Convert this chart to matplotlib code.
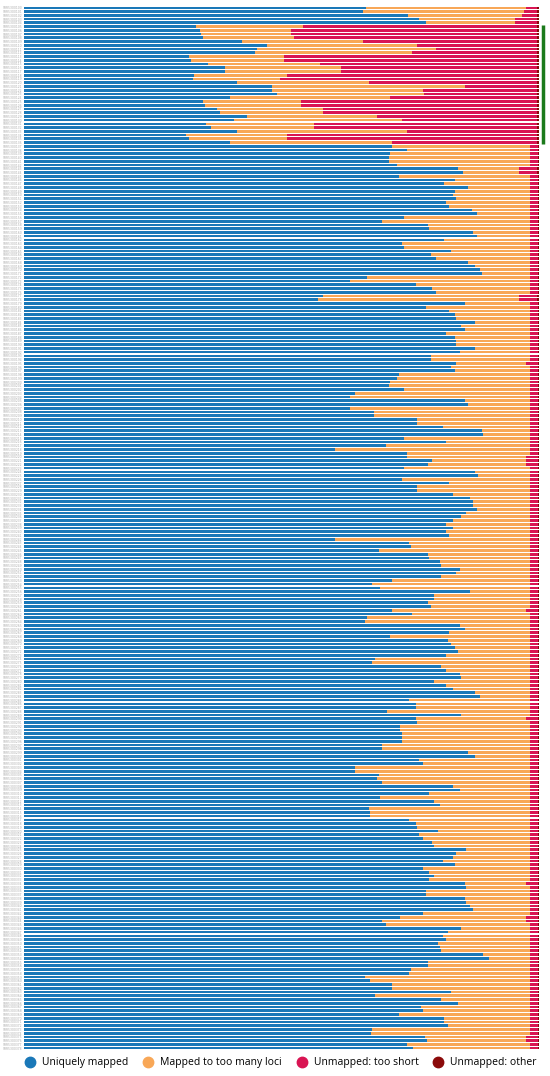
import matplotlib
matplotlib.use("Agg")
import matplotlib.pyplot as plt
from matplotlib.lines import Line2D

# STAR alignment scores, % of reads per sample (top row first)
top_unique = [66.4, 65.9, 74.6, 76.7, 78.0]
top_multi = [31.0, 31.1, 22.1, 18.7, 17.4]
top_short = [2.3, 2.7, 3.0, 4.3, 4.3]
top_other = [0.3, 0.3, 0.3, 0.3, 0.3]

# flagged samples with lots of too-short reads
flag_unique = [33.4, 34.1, 34.4, 34.8, 42.3, 47.2, 45.2, 44.9, 32.1, 32.5, 35.7, 39.0, 39.0, 33.1, 32.8, 41.3,
               48.2, 48.2, 49.2, 40.0, 34.8, 35.1, 37.4, 38.0, 43.3, 40.7, 35.4, 36.4, 41.3, 31.5, 32.1, 40.0]
flag_multi = [20.7, 17.7, 17.4, 17.7, 23.6, 29.2, 34.8, 30.5, 18.4, 18.0, 21.7, 22.6, 22.6, 18.0, 17.0, 25.6,
              37.4, 29.2, 28.5, 31.1, 19.0, 18.7, 20.6, 20.0, 25.2, 32.7, 21.0, 20.0, 33.1, 19.6, 19.0, 31.5]
flag_short = [45.6, 47.9, 47.9, 47.2, 33.8, 23.3, 19.7, 24.3, 49.2, 49.2, 42.3, 38.1, 38.1, 48.6, 49.9, 32.8,
              14.1, 22.3, 22.0, 28.6, 45.9, 45.9, 41.7, 41.7, 31.2, 26.3, 43.3, 43.3, 25.3, 48.6, 48.6, 28.2]
flag_other = [0.3, 0.3, 0.3, 0.3, 0.3, 0.3, 0.3, 0.3, 0.3, 0.3, 0.3, 0.3, 0.3, 0.3, 0.3, 0.3,
              0.3, 0.3, 0.3, 0.3, 0.3, 0.3, 0.3, 0.3, 0.3, 0.3, 0.3, 0.3, 0.3, 0.3, 0.3, 0.3]

rest_unique = [
    71.5, 74.4, 71.1, 70.8, 70.8, 72.5, 84.3, 85.2, 72.8, 83.6, 81.6, 86.2, 83.6, 83.3, 83.9, 82.0, 82.6, 86.9, 87.9,
    73.8, 69.5, 78.4, 78.7, 87.2, 87.9, 81.6, 73.4, 73.8, 83.0, 79.0, 80.0, 86.2, 87.5, 88.5, 88.9, 66.6, 63.3, 76.1,
    79.3, 80.0, 58.0, 57.0, 85.6, 78.0, 82.6, 83.6, 83.9, 87.5, 84.9, 85.6, 82.0, 83.6, 83.9, 83.9, 87.5, 84.6, 79.0,
    79.0, 83.9, 83.0, 83.6, 72.8, 72.5, 71.1, 70.8, 73.8, 64.3, 63.3, 85.6, 86.2, 63.3, 67.9, 67.9, 76.4, 76.4, 81.3,
    88.9, 89.2, 73.8, 82.0, 70.2, 60.3, 74.4, 74.4, 79.3, 78.4, 73.8, 87.5, 88.2, 73.4, 82.6, 76.4, 76.4, 83.3, 86.6,
    87.2, 87.2, 87.9, 85.9, 84.9, 83.3, 82.0, 83.3, 82.0, 82.6, 60.3, 74.8, 75.1, 68.9, 78.4, 78.7, 80.7, 81.0, 84.6,
    83.9, 81.0, 71.5, 67.5, 69.2, 86.6, 79.7, 79.7, 78.4, 79.0, 71.5, 75.4, 66.6, 66.2, 84.6, 85.6, 82.6, 71.1, 82.3,
    83.0, 83.6, 84.3, 82.0, 68.2, 67.5, 81.0, 82.0, 84.6, 84.9, 79.7, 82.0, 83.3, 87.5, 88.5, 74.8, 76.1, 76.1, 70.5,
    84.9, 76.1, 76.4, 73.1, 73.1, 73.4, 73.4, 73.4, 69.5, 69.5, 86.2, 87.5, 76.7, 77.4, 64.3, 64.3, 68.9, 68.5, 69.5,
    83.3, 84.6, 78.7, 69.2, 79.7, 80.7, 66.9, 67.2, 67.2, 74.8, 76.1, 76.4, 80.3, 76.7, 77.4, 79.3, 79.7, 85.9, 83.9,
    83.3, 81.3, 83.6, 77.4, 78.7, 79.7, 78.7, 85.6, 85.9, 78.0, 78.0, 85.6, 85.9, 86.6, 87.2, 77.4, 73.1, 69.5, 70.2,
    84.9, 82.3, 81.3, 82.0, 80.3, 80.7, 81.0, 89.2, 90.2, 78.4, 78.4, 75.1, 74.8, 66.2, 67.2, 71.5, 71.5, 83.0, 68.2,
    81.0, 84.3, 77.0, 77.4, 72.8, 81.6, 81.6, 82.3, 67.6, 67.3, 77.8, 78.2, 74.4, 75.5,
]
rest_multi = [
    26.8, 23.9, 27.2, 27.5, 27.5, 25.8, 11.8, 10.9, 25.5, 14.7, 16.7, 12.1, 14.7, 15.0, 14.4, 16.3, 15.7, 11.4, 10.4,
    24.5, 28.8, 19.9, 19.6, 11.1, 10.4, 16.7, 24.9, 24.5, 15.3, 19.3, 18.3, 12.1, 10.8, 9.8, 9.4, 31.7, 35.0, 22.2,
    19.0, 18.3, 38.1, 39.1, 12.7, 20.3, 15.7, 14.7, 14.4, 10.8, 13.4, 12.7, 16.3, 14.7, 14.4, 14.4, 10.8, 13.7, 19.3,
    19.3, 13.5, 15.3, 14.7, 25.5, 25.8, 27.2, 27.5, 24.5, 34.0, 35.0, 12.7, 12.1, 35.0, 30.4, 30.4, 21.9, 21.9, 17.0,
    9.4, 9.1, 24.5, 16.3, 28.1, 38.0, 23.9, 23.0, 18.1, 19.0, 24.5, 10.8, 10.1, 24.9, 15.7, 21.9, 21.9, 15.0, 11.7,
    11.1, 11.1, 10.4, 12.4, 13.4, 15.0, 16.3, 15.0, 16.3, 15.7, 38.0, 23.5, 23.2, 29.4, 19.9, 19.6, 17.6, 17.3, 13.7,
    14.4, 17.3, 26.8, 30.8, 29.1, 11.7, 18.6, 18.6, 19.9, 19.3, 25.9, 22.9, 31.7, 32.1, 13.7, 12.7, 15.7, 27.2, 16.0,
    15.3, 14.7, 14.0, 16.3, 30.1, 30.8, 17.3, 16.3, 13.7, 13.4, 18.6, 16.3, 15.0, 10.8, 9.8, 23.5, 22.2, 22.2, 27.8,
    13.4, 21.3, 21.9, 25.2, 25.2, 24.9, 24.9, 24.9, 28.8, 28.8, 12.1, 10.8, 21.6, 20.9, 34.0, 34.0, 29.4, 29.8, 28.8,
    15.0, 13.7, 19.6, 29.1, 18.6, 17.6, 31.4, 31.1, 31.1, 23.5, 22.2, 21.9, 18.0, 21.6, 20.9, 19.0, 18.6, 12.4, 14.4,
    15.0, 17.0, 14.7, 20.9, 19.6, 18.6, 19.6, 11.8, 12.4, 20.3, 20.3, 12.7, 12.4, 11.7, 11.1, 20.9, 24.3, 27.9, 28.1,
    13.4, 16.0, 17.0, 16.3, 18.0, 17.6, 17.3, 9.1, 8.1, 19.9, 19.9, 23.2, 23.5, 32.1, 31.1, 26.8, 26.8, 15.3, 30.1,
    17.3, 14.0, 21.3, 20.9, 25.5, 16.7, 16.7, 16.0, 30.7, 31.0, 19.6, 19.2, 23.9, 22.8,
]
rest_short = [
    1.5, 1.5, 1.5, 1.5, 1.5, 1.5, 3.6, 3.6, 1.5, 1.5, 1.5, 1.5, 1.5, 1.5, 1.5, 1.5, 1.5, 1.5, 1.5,
    1.5, 1.5, 1.5, 1.5, 1.5, 1.5, 1.5, 1.5, 1.5, 1.5, 1.5, 1.5, 1.5, 1.5, 1.5, 1.5, 1.5, 1.5, 1.5,
    1.5, 1.5, 3.6, 3.6, 1.5, 1.5, 1.5, 1.5, 1.5, 1.5, 1.5, 1.5, 1.5, 1.5, 1.5, 1.5, 1.5, 1.5, 1.5,
    1.5, 2.4, 1.5, 1.5, 1.5, 1.5, 1.5, 1.5, 1.5, 1.5, 1.5, 1.5, 1.5, 1.5, 1.5, 1.5, 1.5, 1.5, 1.5,
    1.5, 1.5, 1.5, 1.5, 1.5, 1.5, 1.5, 2.4, 2.4, 2.4, 1.5, 1.5, 1.5, 1.5, 1.5, 1.5, 1.5, 1.5, 1.5,
    1.5, 1.5, 1.5, 1.5, 1.5, 1.5, 1.5, 1.5, 1.5, 1.5, 1.5, 1.5, 1.5, 1.5, 1.5, 1.5, 1.5, 1.5, 1.5,
    1.5, 1.5, 1.5, 1.5, 1.5, 1.5, 1.5, 1.5, 1.5, 1.5, 2.4, 1.5, 1.5, 1.5, 1.5, 1.5, 1.5, 1.5, 1.5,
    1.5, 1.5, 1.5, 1.5, 1.5, 1.5, 1.5, 1.5, 1.5, 1.5, 1.5, 1.5, 1.5, 1.5, 1.5, 1.5, 1.5, 1.5, 1.5,
    1.5, 2.4, 1.5, 1.5, 1.5, 1.5, 1.5, 1.5, 1.5, 1.5, 1.5, 1.5, 1.5, 1.5, 1.5, 1.5, 1.5, 1.5, 1.5,
    1.5, 1.5, 1.5, 1.5, 1.5, 1.5, 1.5, 1.5, 1.5, 1.5, 1.5, 1.5, 1.5, 1.5, 1.5, 1.5, 1.5, 1.5, 1.5,
    1.5, 1.5, 1.5, 1.5, 1.5, 1.5, 1.5, 2.4, 1.5, 1.5, 1.5, 1.5, 1.5, 1.5, 1.5, 1.5, 2.4, 2.4, 1.5,
    1.5, 1.5, 1.5, 1.5, 1.5, 1.5, 1.5, 1.5, 1.5, 1.5, 1.5, 1.5, 1.5, 1.5, 1.5, 1.5, 1.5, 1.5, 1.5,
    1.5, 1.5, 1.5, 1.5, 1.5, 1.5, 1.5, 1.5, 1.5, 1.5, 2.4, 2.4, 1.5, 1.5,
]
rest_other = [
    0.2, 0.2, 0.2, 0.2, 0.2, 0.2, 0.3, 0.3, 0.2, 0.2, 0.2, 0.2, 0.2, 0.2, 0.2, 0.2, 0.2, 0.2, 0.2,
    0.2, 0.2, 0.2, 0.2, 0.2, 0.2, 0.2, 0.2, 0.2, 0.2, 0.2, 0.2, 0.2, 0.2, 0.2, 0.2, 0.2, 0.2, 0.2,
    0.2, 0.2, 0.3, 0.3, 0.2, 0.2, 0.2, 0.2, 0.2, 0.2, 0.2, 0.2, 0.2, 0.2, 0.2, 0.2, 0.2, 0.2, 0.2,
    0.2, 0.2, 0.2, 0.2, 0.2, 0.2, 0.2, 0.2, 0.2, 0.2, 0.2, 0.2, 0.2, 0.2, 0.2, 0.2, 0.2, 0.2, 0.2,
    0.2, 0.2, 0.2, 0.2, 0.2, 0.2, 0.2, 0.2, 0.2, 0.2, 0.2, 0.2, 0.2, 0.2, 0.2, 0.2, 0.2, 0.2, 0.2,
    0.2, 0.2, 0.2, 0.2, 0.2, 0.2, 0.2, 0.2, 0.2, 0.2, 0.2, 0.2, 0.2, 0.2, 0.2, 0.2, 0.2, 0.2, 0.2,
    0.2, 0.2, 0.2, 0.2, 0.2, 0.2, 0.2, 0.2, 0.2, 0.2, 0.2, 0.2, 0.2, 0.2, 0.2, 0.2, 0.2, 0.2, 0.2,
    0.2, 0.2, 0.2, 0.2, 0.2, 0.2, 0.2, 0.2, 0.2, 0.2, 0.2, 0.2, 0.2, 0.2, 0.2, 0.2, 0.2, 0.2, 0.2,
    0.2, 0.2, 0.2, 0.2, 0.2, 0.2, 0.2, 0.2, 0.2, 0.2, 0.2, 0.2, 0.2, 0.2, 0.2, 0.2, 0.2, 0.2, 0.2,
    0.2, 0.2, 0.2, 0.2, 0.2, 0.2, 0.2, 0.2, 0.2, 0.2, 0.2, 0.2, 0.2, 0.2, 0.2, 0.2, 0.2, 0.2, 0.2,
    0.2, 0.2, 0.2, 0.2, 0.2, 0.2, 0.2, 0.2, 0.2, 0.2, 0.2, 0.2, 0.2, 0.2, 0.2, 0.2, 0.2, 0.2, 0.2,
    0.2, 0.2, 0.2, 0.2, 0.2, 0.2, 0.2, 0.2, 0.2, 0.2, 0.2, 0.2, 0.2, 0.2, 0.2, 0.2, 0.2, 0.2, 0.2,
    0.2, 0.2, 0.2, 0.2, 0.2, 0.2, 0.2, 0.2, 0.2, 0.2, 0.2, 0.2, 0.2, 0.2,
]

unique = top_unique + flag_unique + rest_unique
multi = top_multi + flag_multi + rest_multi
short = top_short + flag_short + rest_short
other = top_other + flag_other + rest_other
n = len(unique)
samples = ["SRR%07d" % (5300100 + i) for i in range(n)]

series = [("Uniquely mapped", unique, "#1a78b8"),
          ("Mapped to too many loci", multi, "#f8a757"),
          ("Unmapped: too short", short, "#d91453"),
          ("Unmapped: other", other, "#8b0a0a")]

fig = plt.figure(figsize=(5.5, 10.76), dpi=100)
ax = fig.add_axes([24 / 550, 1 - 1050 / 1076, 515 / 550, 1044 / 1076])

ypos = list(range(n))
left = [0.0] * n
for name, vals, col in series:
    ax.barh(ypos, vals, left=left, height=0.72, color=col, linewidth=0, label=name)
    left = [a + b for a, b in zip(left, vals)]

ax.set_xlim(0, 100)
ax.set_ylim(n - 0.5, -0.5)
ax.set_xticks([])
ax.set_yticks(ypos)
ax.set_yticklabels(samples, fontsize=2.2, color="#aaaaaa")
ax.tick_params(axis="y", length=0, pad=1)
for s in ax.spines.values():
    s.set_visible(False)

# green marker for the flagged block
first_flag = len(top_unique)
last_flag = first_flag + len(flag_unique) - 1
ax.plot([100.7, 100.7], [first_flag - 0.4, last_flag + 0.4], color="#1b7a1b", lw=2.5,
        solid_capstyle="butt", clip_on=False)

handles = [Line2D([], [], marker="o", ls="", color=c, markersize=7.5) for _, _, c in series]
fig.legend(handles, [s[0] for s in series], loc="center", bbox_to_anchor=(0.51, 1 - 1063 / 1076),
           ncol=4, frameon=False, handletextpad=0.55, columnspacing=1.3, handlelength=1.2,
           prop={"family": "Open Sans", "size": 7.5})

fig.savefig("out.png", dpi=100)
